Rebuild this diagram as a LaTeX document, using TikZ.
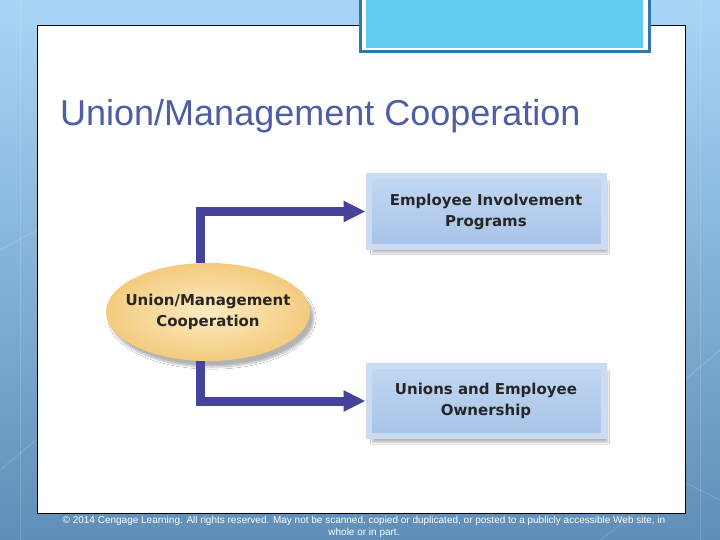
\documentclass[tikz,border=0pt]{standalone}
\usepackage{fontspec}
\setmainfont{Liberation Sans}
\newfontfamily\dfont{DejaVu Sans}
\usetikzlibrary{shapes.geometric,arrows.meta,shadows.blur}
\definecolor{bgtop}{HTML}{A9D5F7}
\definecolor{bgbot}{HTML}{5F8EB8}
\definecolor{titleblue}{HTML}{4F5CA6}
\definecolor{tabfill}{HTML}{5FCBF0}
\definecolor{tabedge}{HTML}{2E78AE}
\definecolor{boxedge}{HTML}{C9DCF3}
\definecolor{boxtop}{HTML}{C2D8F2}
\definecolor{boxbot}{HTML}{A8C3E8}
\definecolor{ellin}{HTML}{FCEBC2}
\definecolor{ellout}{HTML}{F3CB7E}
\definecolor{arrowc}{HTML}{45449A}
\tikzset{
  lbl/.style={align=center, font=\dfont\bfseries\fontsize{15}{21}\selectfont, text=black!85},
  box/.style={rectangle, minimum width=235pt, minimum height=70pt, draw=boxedge, line width=6pt,
    top color=boxtop, bottom color=boxbot, lbl,
    blur shadow={shadow xshift=4pt, shadow yshift=-6pt, shadow blur steps=10, shadow opacity=30}},
  oval/.style={ellipse, minimum width=204pt, minimum height=98pt, inner sep=0pt, inner color=ellin, outer color=ellout,
    blur shadow={shadow xshift=4pt, shadow yshift=-6pt, shadow blur steps=10, shadow opacity=30}},
  conn/.style={draw=arrowc, line width=9pt, -{Triangle[length=22pt,width=20pt]}}
}
\begin{document}
\begin{tikzpicture}[x=1pt,y=-1pt]
\useasboundingbox (0,0) rectangle (720,540);
\shade[top color=bgtop, bottom color=bgbot] (0,0) rectangle (720,540);
% faint background lines
\begin{scope}[white, opacity=0.15, line width=1pt]
  \draw (0,470) -- (60,420) -- (120,500);
  \draw (600,540) -- (680,480) -- (720,500);
  \draw (685,380) -- (720,350);
  \draw (0,250) -- (37,230);
  \draw (20,0) -- (20,540);
  \draw (700,0) -- (700,540);
\end{scope}
% slide panel
\node[draw=black, fill=white, line width=1pt, minimum width=648pt, minimum height=487pt, inner sep=0pt]
  (panel) at (361,269.5) {};
% top tab
\node[draw=tabedge, line width=3pt, fill=white, minimum width=289pt, minimum height=60pt, inner sep=0pt]
  (tab) at (504.5,22) {};
\node[fill=tabfill, minimum width=277pt, minimum height=55pt, inner sep=0pt] (tabin) at (504.5,20.5) {};
% title
\node[anchor=base west, text=titleblue, font=\fontsize{36}{42}\selectfont, inner sep=0pt] (title) at (60,126)
  {Union/Management Cooperation};
% diagram
\node[box] (b1) at (486,211.5) {Employee Involvement\\Programs};
\node[box] (b2) at (486,401) {Unions and Employee\\Ownership};
\node[oval] (ell) at (208,312) {};
\node[lbl] (elltext) at (ell.center) {Union/Management\\Cooperation};
\draw[conn] ([xshift=-8pt]ell.north) |- (b1.west);
\draw[conn] ([xshift=-8pt]ell.south) |- (b2.west);
% footer
\node[text=white, align=center, font=\fontsize{10}{12}\selectfont, inner sep=0pt] (foot) at (364,527)
  {\textcopyright{} 2014 Cengage Learning. All rights reserved. May not be scanned, copied or duplicated, or posted to a publicly accessible Web site, in\\whole or in part.};
\end{tikzpicture}
\end{document}
